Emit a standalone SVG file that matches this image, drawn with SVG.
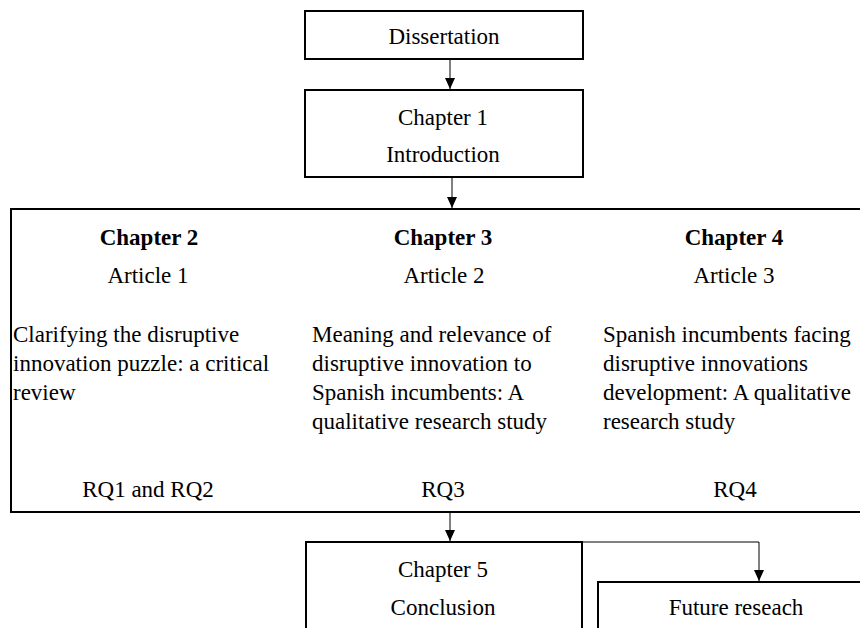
<svg xmlns="http://www.w3.org/2000/svg" width="860" height="628" viewBox="0 0 860 628">
<defs>
<style>
.box{fill:#fff;stroke:#000;stroke-width:2}
.t{font-family:"Liberation Serif","Times New Roman",serif;font-size:23px;fill:#000}
.c{text-anchor:middle}
.b{font-weight:bold}
.ln{fill:none;stroke:#000;stroke-width:1}
</style>
<marker id="ah" viewBox="0 0 10 11" refX="10" refY="5" markerWidth="10" markerHeight="11" orient="auto" markerUnits="userSpaceOnUse">
<path d="M0,0 L10,5 L0,10 z" fill="#000" transform="translate(0,0)"/>
</marker>
<marker id="ah2" viewBox="0 0 11 10" refX="11" refY="5" markerWidth="11" markerHeight="10" orient="auto" markerUnits="userSpaceOnUse">
<path d="M0,0 L11,5 L0,10 z" fill="#000"/>
</marker>
</defs>
<rect width="860" height="628" fill="#fff"/>
<g id="connectors">
<line class="ln" x1="450" y1="60" x2="450" y2="89" marker-end="url(#ah2)"/>
<line class="ln" x1="452" y1="178" x2="452" y2="208" marker-end="url(#ah2)"/>
<line class="ln" x1="450" y1="513" x2="450" y2="541" marker-end="url(#ah2)"/>
<polyline class="ln" points="583,542 759,542 759,581" marker-end="url(#ah2)"/>
</g>
<g id="dissertation">
<rect class="box" x="305" y="11" width="278" height="48"/>
<text class="t c" x="444" y="44">Dissertation</text>
</g>
<g id="chapter1">
<rect class="box" x="305" y="90" width="278" height="87"/>
<text class="t c" x="443" y="125">Chapter 1</text>
<text class="t c" x="443" y="162">Introduction</text>
</g>
<g id="articles">
<rect class="box" x="11" y="209" width="860" height="303"/>
<text class="t c b" x="149" y="245">Chapter 2</text>
<text class="t c" x="148" y="283">Article 1</text>
<text class="t" x="13" y="342">Clarifying the disruptive</text>
<text class="t" x="13" y="371">innovation puzzle: a critical</text>
<text class="t" x="13" y="400">review</text>
<text class="t c" x="148" y="497">RQ1 and RQ2</text>
<text class="t c b" x="443" y="245">Chapter 3</text>
<text class="t c" x="444" y="283">Article 2</text>
<text class="t" x="312" y="342">Meaning and relevance of</text>
<text class="t" x="312" y="371">disruptive innovation to</text>
<text class="t" x="312" y="400">Spanish incumbents: A</text>
<text class="t" x="312" y="429">qualitative research study</text>
<text class="t c" x="443" y="497">RQ3</text>
<text class="t c b" x="734" y="245">Chapter 4</text>
<text class="t c" x="734" y="283">Article 3</text>
<text class="t" x="603" y="342">Spanish incumbents facing</text>
<text class="t" x="603" y="371">disruptive innovations</text>
<text class="t" x="603" y="400">development: A qualitative</text>
<text class="t" x="603" y="429">research study</text>
<text class="t c" x="735" y="497">RQ4</text>
</g>
<g id="chapter5">
<rect class="box" x="306" y="542" width="276" height="120"/>
<text class="t c" x="443" y="577">Chapter 5</text>
<text class="t c" x="443" y="615">Conclusion</text>
</g>
<g id="future">
<rect class="box" x="598" y="582" width="300" height="80"/>
<text class="t c" x="736" y="615">Future reseach</text>
</g>
</svg>
